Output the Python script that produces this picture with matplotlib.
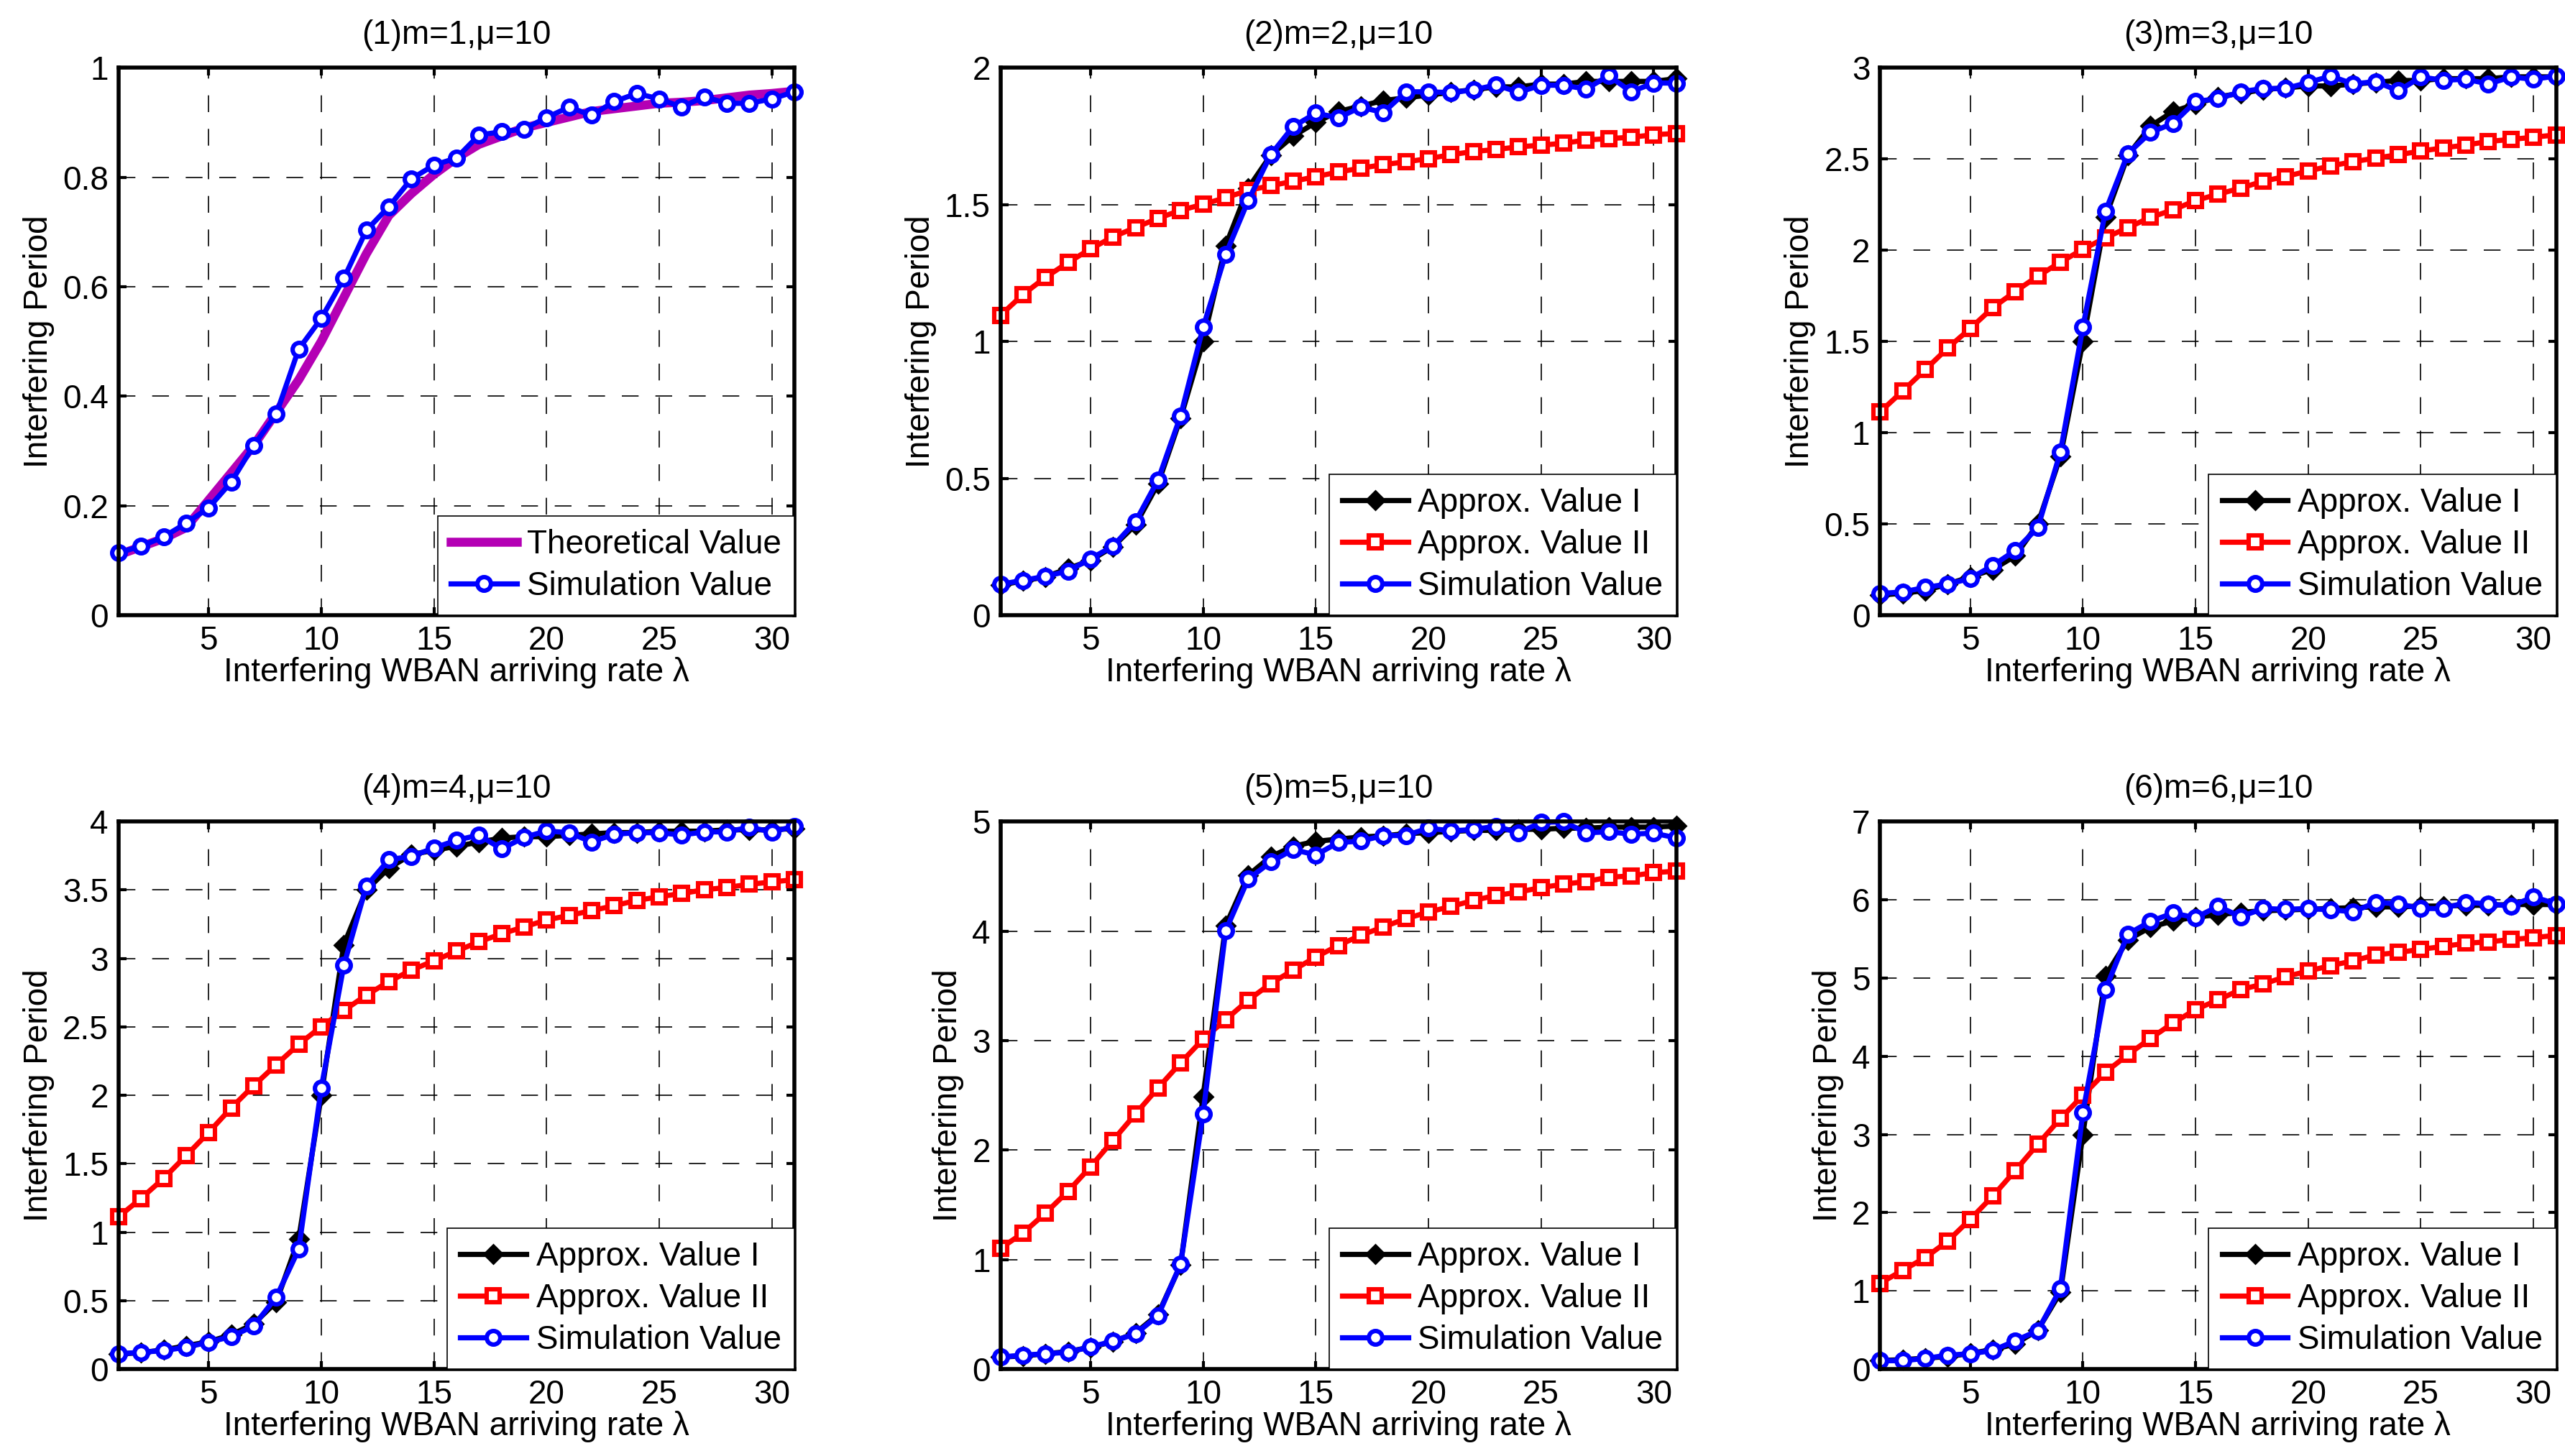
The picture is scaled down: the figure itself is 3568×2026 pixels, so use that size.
import matplotlib
matplotlib.use('Agg')
import matplotlib.pyplot as plt
from matplotlib.ticker import FormatStrFormatter

plt.rcParams['font.family'] = ['Liberation Sans', 'DejaVu Sans']

# arriving rate lambda, 1..31
lam = list(range(1, 32))

# (1) m=1
theory_1 = [0.11, 0.125, 0.14, 0.16, 0.21, 0.26, 0.31, 0.37, 0.43, 0.50, 0.58, 0.66, 0.73, 0.77,
            0.805, 0.835, 0.86, 0.875, 0.89, 0.90, 0.91, 0.92, 0.925, 0.93, 0.935, 0.937, 0.94,
            0.945, 0.95, 0.953, 0.957]
sim_1 = [0.114, 0.126, 0.143, 0.168, 0.196, 0.243, 0.310, 0.367, 0.486, 0.542, 0.615, 0.703, 0.746,
         0.797, 0.822, 0.835, 0.877, 0.883, 0.888, 0.909, 0.928, 0.913, 0.938, 0.953, 0.943, 0.928,
         0.947, 0.935, 0.935, 0.943, 0.956]

# (2) m=2
appr1_2 = [0.11, 0.125, 0.14, 0.17, 0.20, 0.25, 0.33, 0.48, 0.72, 1.00, 1.35, 1.56, 1.68, 1.75, 1.80,
           1.84, 1.86, 1.88, 1.89, 1.90, 1.91, 1.92, 1.93, 1.93, 1.94, 1.94, 1.95, 1.95, 1.95, 1.95, 1.96]
appr2_2 = [1.095, 1.171, 1.234, 1.288, 1.338, 1.382, 1.416, 1.450, 1.479, 1.501, 1.525, 1.552, 1.569,
           1.585, 1.602, 1.619, 1.633, 1.646, 1.656, 1.668, 1.682, 1.694, 1.701, 1.711, 1.717, 1.724,
           1.736, 1.741, 1.746, 1.755, 1.760]
sim_2 = [0.113, 0.127, 0.142, 0.161, 0.206, 0.252, 0.342, 0.494, 0.728, 1.052, 1.318, 1.514, 1.682,
         1.785, 1.834, 1.817, 1.856, 1.836, 1.912, 1.912, 1.909, 1.919, 1.937, 1.910, 1.936, 1.936,
         1.922, 1.971, 1.912, 1.944, 1.944]

# (3) m=3
appr1_3 = [0.11, 0.12, 0.135, 0.17, 0.21, 0.25, 0.325, 0.50, 0.87, 1.50, 2.18, 2.52, 2.68, 2.76, 2.80,
           2.84, 2.86, 2.88, 2.89, 2.90, 2.90, 2.91, 2.92, 2.93, 2.93, 2.94, 2.94, 2.94, 2.95, 2.95, 2.95]
appr2_3 = [1.114, 1.228, 1.345, 1.464, 1.571, 1.685, 1.774, 1.858, 1.934, 2.005, 2.068, 2.124, 2.180,
           2.221, 2.272, 2.307, 2.340, 2.378, 2.404, 2.434, 2.462, 2.485, 2.505, 2.523, 2.543, 2.561,
           2.576, 2.596, 2.607, 2.619, 2.632]
sim_3 = [0.119, 0.127, 0.152, 0.170, 0.201, 0.272, 0.355, 0.480, 0.893, 1.579, 2.213, 2.530, 2.645,
         2.695, 2.815, 2.830, 2.868, 2.886, 2.886, 2.919, 2.954, 2.911, 2.924, 2.873, 2.949, 2.931,
         2.937, 2.911, 2.949, 2.937, 2.954]

# (4) m=4
appr1_4 = [0.11, 0.12, 0.14, 0.17, 0.20, 0.25, 0.33, 0.49, 0.95, 2.00, 3.10, 3.50, 3.66, 3.76, 3.79,
           3.82, 3.85, 3.88, 3.89, 3.89, 3.90, 3.91, 3.92, 3.92, 3.93, 3.93, 3.93, 3.94, 3.94, 3.94, 3.95]
appr2_4 = [1.112, 1.247, 1.393, 1.559, 1.729, 1.908, 2.071, 2.224, 2.373, 2.502, 2.620, 2.732, 2.831,
           2.915, 2.983, 3.054, 3.122, 3.180, 3.231, 3.281, 3.315, 3.349, 3.386, 3.424, 3.451, 3.475,
           3.502, 3.519, 3.542, 3.559, 3.576]
sim_4 = [0.112, 0.122, 0.136, 0.159, 0.197, 0.237, 0.315, 0.525, 0.875, 2.054, 2.949, 3.529, 3.722,
         3.746, 3.807, 3.864, 3.902, 3.800, 3.885, 3.932, 3.919, 3.851, 3.908, 3.919, 3.919, 3.902,
         3.925, 3.925, 3.959, 3.925, 3.966]

# (5) m=5
appr1_5 = [0.11, 0.12, 0.14, 0.16, 0.20, 0.25, 0.33, 0.50, 0.95, 2.49, 4.05, 4.51, 4.68, 4.775, 4.82,
           4.84, 4.86, 4.87, 4.89, 4.90, 4.91, 4.92, 4.92, 4.93, 4.93, 4.94, 4.94, 4.95, 4.95, 4.95, 4.96]
appr2_5 = [1.102, 1.242, 1.424, 1.623, 1.847, 2.089, 2.331, 2.568, 2.797, 3.013, 3.191, 3.369, 3.521,
           3.644, 3.763, 3.869, 3.962, 4.038, 4.114, 4.174, 4.225, 4.280, 4.326, 4.356, 4.398, 4.428,
           4.453, 4.492, 4.504, 4.534, 4.547]
sim_5 = [0.110, 0.127, 0.140, 0.153, 0.203, 0.254, 0.322, 0.487, 0.958, 2.331, 4.004, 4.475, 4.631,
         4.746, 4.695, 4.809, 4.822, 4.873, 4.873, 4.941, 4.915, 4.928, 4.958, 4.898, 4.992, 5.000,
         4.898, 4.907, 4.886, 4.894, 4.852]

# (6) m=6
appr1_6 = [0.11, 0.12, 0.14, 0.16, 0.20, 0.25, 0.32, 0.50, 0.98, 3.00, 5.03, 5.49, 5.65, 5.73, 5.78,
           5.81, 5.84, 5.86, 5.87, 5.88, 5.89, 5.90, 5.91, 5.91, 5.92, 5.92, 5.93, 5.93, 5.94, 5.94, 5.94]
appr2_6 = [1.097, 1.263, 1.424, 1.637, 1.916, 2.212, 2.539, 2.877, 3.203, 3.499, 3.796, 4.021, 4.229,
           4.425, 4.597, 4.721, 4.852, 4.923, 5.018, 5.089, 5.160, 5.219, 5.297, 5.326, 5.368, 5.404,
           5.445, 5.463, 5.492, 5.516, 5.546]
sim_6 = [0.107, 0.107, 0.136, 0.178, 0.196, 0.237, 0.362, 0.492, 1.026, 3.280, 4.852, 5.563, 5.724,
         5.831, 5.771, 5.919, 5.783, 5.889, 5.878, 5.889, 5.872, 5.848, 5.967, 5.949, 5.889, 5.889,
         5.967, 5.949, 5.919, 6.038, 5.949]

titles = ['(1)m=1,\u03bc=10', '(2)m=2,\u03bc=10', '(3)m=3,\u03bc=10',
          '(4)m=4,\u03bc=10', '(5)m=5,\u03bc=10', '(6)m=6,\u03bc=10']
ymax = [1, 2, 3, 4, 5, 7]
ystep = [0.2, 0.5, 0.5, 0.5, 1, 1]
x_ticks = [5, 10, 15, 20, 25, 30]

approx1 = [None, appr1_2, appr1_3, appr1_4, appr1_5, appr1_6]
approx2 = [None, appr2_2, appr2_3, appr2_4, appr2_5, appr2_6]
sims = [sim_1, sim_2, sim_3, sim_4, sim_5, sim_6]

# axes rectangles in figure fractions
lefts = [0.0462, 0.390, 0.733]
bottoms = [0.5775, 0.0597]
w, h = 0.2635, 0.376

fs = 16.5
fig = plt.figure(figsize=(17.84, 10.13), dpi=200)

for i in range(6):
    ax = fig.add_axes([lefts[i % 3], bottoms[i // 3], w, h])
    if i == 0:
        ax.plot(lam, theory_1, color='#b400b4', linewidth=4.5, label='Theoretical Value',
                clip_on=False)
    else:
        ax.plot(lam, approx1[i], color='black', linewidth=2.6, marker='D', markersize=6.5,
                markerfacecolor='black', label='Approx. Value I', clip_on=False)
        ax.plot(lam, approx2[i], color='#ff0000', linewidth=2.6, marker='s', markersize=6.5,
                markerfacecolor='white', markeredgewidth=2.2, label='Approx. Value II',
                clip_on=False)
    ax.plot(lam, sims[i], color='#0000ff', linewidth=2.6, marker='o', markersize=6.8,
            markerfacecolor='white', markeredgewidth=2.2, label='Simulation Value',
            clip_on=False)

    ax.set_xlim(1, 31)
    ax.set_ylim(0, ymax[i])
    ax.set_xticks(x_ticks)
    n = int(round(ymax[i] / ystep[i]))
    ax.set_yticks([k * ystep[i] for k in range(n + 1)])
    ax.yaxis.set_major_formatter(FormatStrFormatter('%g'))
    ax.grid(True, color='black', linestyle=(0, (14, 14)), linewidth=0.6)
    ax.tick_params(direction='in', top=True, right=True, length=4, width=1.5,
                   labelsize=fs, pad=5)
    for sp in ax.spines.values():
        sp.set_linewidth(2.0)
    ax.set_title(titles[i], fontsize=fs, pad=12)
    ax.set_xlabel('Interfering WBAN arriving rate \u03bb', fontsize=fs, labelpad=0)
    ax.set_ylabel('Interfering Period', fontsize=fs, labelpad=4)
    leg = ax.legend(loc='lower right', fontsize=fs, fancybox=False, framealpha=1,
                    edgecolor='black', borderaxespad=0, handlelength=2.0,
                    labelspacing=0.3, borderpad=0.4, handletextpad=0.3)
    leg.get_frame().set_linewidth(0.6)

fig.savefig('out.png', dpi=200)
